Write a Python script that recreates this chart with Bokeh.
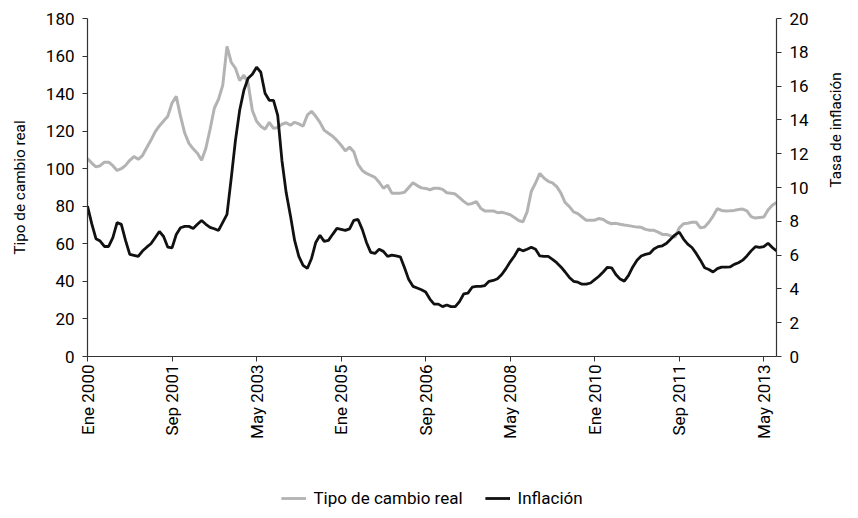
from bokeh.plotting import figure
from bokeh.models import (LinearAxis, Range1d, FixedTicker, Legend, LegendItem,
                          ColumnDataSource)
from bokeh.layouts import column
from bokeh.embed import file_html
from bokeh.resources import INLINE
import math

# Monthly data, Ene 2000 .. Ago 2013
tipo_cambio_real = [
    105.4, 103.0, 101.0, 101.6, 103.5, 103.5, 101.6, 99.1, 100.0, 101.8,
    104.5, 106.5, 105.0, 107.0, 111.2, 115.1, 119.6, 122.8, 125.4, 128.0,
    135.0, 138.5, 128.0, 119.0, 113.5, 110.6, 108.2, 104.5, 110.9, 121.0,
    132.2, 137.0, 144.5, 165.2, 156.7, 153.5, 147.0, 149.8, 145.5, 131.0,
    125.3, 122.6, 121.0, 124.7, 121.5, 122.0, 123.7, 124.5, 123.1, 124.7,
    123.9, 122.6, 128.5, 130.6, 127.9, 124.7, 120.5, 118.9, 117.3, 115.1,
    112.5, 109.5, 111.5, 109.0, 102.3, 99.1, 97.5, 96.5, 95.4, 92.8,
    89.6, 91.2, 87.0, 87.0, 87.0, 87.5, 90.0, 92.5, 91.0, 89.8,
    89.5, 88.8, 89.6, 89.6, 89.0, 87.2, 87.0, 86.5, 84.6, 82.6,
    81.0, 81.5, 82.5, 79.0, 77.5, 77.5, 77.5, 76.6, 76.8, 76.2,
    75.5, 74.0, 72.4, 71.7, 77.0, 88.0, 92.4, 97.5, 95.0, 93.3,
    92.5, 90.5, 87.0, 82.0, 79.8, 77.0, 76.1, 74.3, 72.5, 72.5,
    72.6, 73.5, 73.0, 71.5, 70.7, 70.9, 70.4, 70.0, 69.7, 69.3,
    68.9, 68.8, 67.7, 67.2, 67.2, 66.2, 65.0, 65.0, 64.2, 63.6,
    68.5, 70.7, 71.0, 71.5, 71.5, 68.5, 69.0, 71.5, 74.8, 78.7,
    77.8, 77.5, 77.6, 77.8, 78.3, 78.5, 77.5, 74.5, 73.7, 74.0,
    74.3, 78.0, 80.5, 82.0,
]

inflacion = [
    8.90, 7.86, 6.97, 6.83, 6.51, 6.51, 7.03, 7.92, 7.82, 6.87,
    6.04, 5.98, 5.92, 6.24, 6.47, 6.67, 7.03, 7.40, 7.10, 6.47,
    6.43, 7.22, 7.62, 7.70, 7.70, 7.58, 7.82, 8.05, 7.82, 7.64,
    7.56, 7.46, 7.94, 8.41, 10.54, 12.79, 14.57, 15.75, 16.46, 16.70,
    17.12, 16.82, 15.58, 15.16, 15.16, 14.27, 11.60, 9.70, 8.35, 6.87,
    5.92, 5.39, 5.21, 5.80, 6.75, 7.17, 6.81, 6.87, 7.23, 7.58,
    7.52, 7.46, 7.55, 8.05, 8.11, 7.52, 6.75, 6.16, 6.10, 6.34,
    6.22, 5.92, 6.00, 5.95, 5.90, 5.25, 4.55, 4.15, 4.05, 3.95,
    3.82, 3.40, 3.10, 3.10, 2.95, 3.05, 2.95, 2.95, 3.25, 3.70,
    3.75, 4.10, 4.15, 4.15, 4.20, 4.45, 4.50, 4.60, 4.85, 5.20,
    5.60, 5.95, 6.38, 6.25, 6.35, 6.47, 6.35, 5.95, 5.92, 5.92,
    5.75, 5.55, 5.30, 5.00, 4.68, 4.45, 4.40, 4.28, 4.28, 4.35,
    4.55, 4.75, 5.00, 5.28, 5.25, 4.85, 4.58, 4.46, 4.80, 5.30,
    5.70, 5.95, 6.04, 6.10, 6.36, 6.50, 6.55, 6.70, 6.95, 7.20,
    7.36, 6.95, 6.65, 6.45, 6.10, 5.70, 5.25, 5.15, 5.00, 5.20,
    5.29, 5.29, 5.30, 5.45, 5.55, 5.70, 5.95, 6.25, 6.50, 6.45,
    6.50, 6.70, 6.45, 6.25,
]

tick_positions = [0, 20, 40, 60, 80, 100, 120, 140, 160]
tick_labels = ["Ene 2000", "Sep 2001", "May 2003", "Ene 2005", "Sep 2006",
               "May 2008", "Ene 2010", "Sep 2011", "May 2013"]
left_ticks = [0, 20, 40, 60, 80, 100, 120, 140, 160, 180]
right_ticks = [0, 2, 4, 6, 8, 10, 12, 14, 16, 18, 20]
series_names = ["Tipo de cambio real", "Inflación"]
series_colors = ["#b3b3b3", "#111111"]

mes = list(range(len(tipo_cambio_real)))
src = ColumnDataSource(dict(x=mes, tcr=tipo_cambio_real, inf=inflacion))

FONT = "Roboto"
W = 856

p = figure(width=W, height=484, output_backend="svg", toolbar_location=None,
           x_range=Range1d(0, len(mes) - 1), y_range=Range1d(0, 180),
           min_border_left=87, min_border_right=76, min_border_top=18,
           min_border_bottom=128)
p.extra_y_ranges = {"inf": Range1d(0, 20)}
p.outline_line_color = None
p.xgrid.visible = False
p.ygrid.visible = False

p.line("x", "tcr", source=src, line_color=series_colors[0], line_width=3)
p.line("x", "inf", source=src, y_range_name="inf", line_color=series_colors[1],
       line_width=2.8)

ax = p.xaxis[0]
ax.ticker = FixedTicker(ticks=tick_positions)
ax.major_label_overrides = {t: l for t, l in zip(tick_positions, tick_labels)}
ax.major_label_orientation = math.pi / 2
ax.major_label_standoff = 3

ay = p.yaxis[0]
ay.ticker = FixedTicker(ticks=left_ticks)
ay.axis_label = "Tipo de cambio real"
ay.major_label_standoff = 8
ay.axis_label_standoff = 14

ry = LinearAxis(y_range_name="inf", ticker=FixedTicker(ticks=right_ticks),
                axis_label="Tasa de inflación")
ry.major_label_standoff = 8
ry.axis_label_standoff = 24
ry.axis_label_orientation = math.pi / 2
p.add_layout(ry, "right")

for a in (ax, ay, ry):
    a.minor_tick_line_color = None
    a.major_tick_in = 0
    a.major_tick_out = 5
    a.axis_line_color = "#333333"
    a.major_tick_line_color = "#333333"
    a.axis_line_width = 1.2
    a.major_label_text_font = FONT
    a.major_label_text_font_size = "17px"
    a.major_label_text_color = "black"
    a.axis_label_text_font = FONT
    a.axis_label_text_font_size = "15.3px"
    a.axis_label_text_font_style = "normal"
    a.axis_label_text_color = "black"

# legend strip below the chart
lg = figure(width=W, height=28, output_backend="svg", toolbar_location=None,
            x_range=Range1d(0, 1), y_range=Range1d(0, 1),
            x_axis_type=None, y_axis_type=None,
            min_border_left=0, min_border_right=0, min_border_top=0,
            min_border_bottom=0)
lg.outline_line_color = None
lg.xgrid.visible = False
lg.ygrid.visible = False
items = []
for name, col in zip(series_names, series_colors):
    r = lg.line(x=[-5, -4], y=[-5, -4], line_color=col, line_width=2.8)
    items.append(LegendItem(label=name, renderers=[r]))
legend = Legend(items=items, orientation="horizontal", location="center")
legend.border_line_color = None
legend.background_fill_alpha = 0
legend.padding = 0
legend.margin = 0
legend.glyph_width = 25
legend.glyph_height = 20
legend.label_standoff = 8
legend.spacing = 22
legend.label_text_font = FONT
legend.label_text_font_size = "17px"
legend.label_text_color = "black"
lg.add_layout(legend, "center")

layout = column(p, lg, spacing=0)
open("out.html", "w").write(file_html(layout, INLINE))
